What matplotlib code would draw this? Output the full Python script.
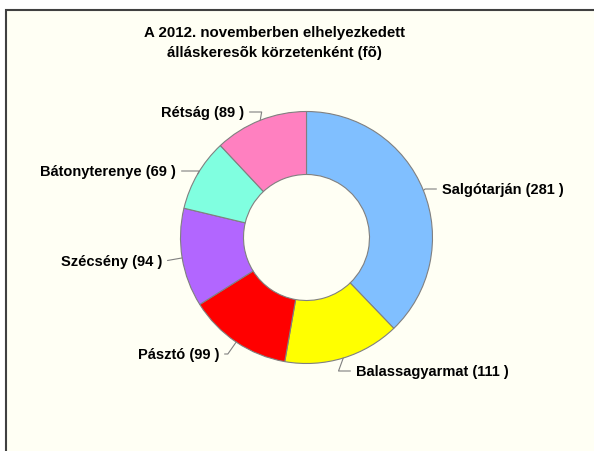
import matplotlib
matplotlib.use("Agg")
import matplotlib.pyplot as plt
from matplotlib.patches import Rectangle
import numpy as np

plt.rcParams['font.family'] = ['Liberation Sans', 'DejaVu Sans']

# ---- data ----
categories = ["Salgótarján", "Balassagyarmat", "Pásztó", "Szécsény", "Bátonyterenye", "Rétság"]
values = [281, 111, 99, 94, 69, 89]
title_lines = ["A 2012. novemberben elhelyezkedett", "álláskeresõk körzetenként (fõ)"]

# ---- styles ----
colors = ["#80BFFF", "#FFFF00", "#FF0000", "#B266FF", "#80FFE0", "#FF80C0"]
bg = "#FFFFF4"
# label anchor (pixel coords in the 594x452 image), alignment, leader angle at wedge
label_px = [(442, 190), (356, 372), (219, 355), (162, 262), (176, 172), (244, 113)]
label_ha = ["left", "left", "right", "right", "right", "right"]
leader_angle = [40, 70, 55, 10, 60, 80]

W, H = 594, 452
fig = plt.figure(figsize=(W / 100, H / 100), dpi=100)
fig.patch.set_facecolor("white")
fig.patches.append(Rectangle((6 / W, -0.05), 1.1, 1 - 11 / H + 0.05, transform=fig.transFigure,
                             facecolor=bg, edgecolor="#404040", linewidth=1.5, zorder=-5))

cx, cy, R = 306.5, 238.5, 126.0
xlim = (-2.0, 2.0)
ylim = (-1.6, 1.8)
left = (cx + xlim[0] * R) / W
bottom = ((H - cy) + ylim[0] * R) / H
ax = fig.add_axes([left, bottom, (xlim[1] - xlim[0]) * R / W, (ylim[1] - ylim[0]) * R / H])
ax.set_facecolor("none")
ax.set_zorder(2)

wedges, _ = ax.pie(values, colors=colors, startangle=90, counterclock=False, radius=1.0,
                   wedgeprops=dict(width=0.5, edgecolor="#808080", linewidth=0.8))
ax.set_xlim(*xlim)
ax.set_ylim(*ylim)
ax.set_aspect("auto")
ax.axis("off")


def px2data(px, py):
    return ((px - cx) / R, (cy - py) / R)


for w, name, val, (px, py), ha, ang in zip(wedges, categories, values, label_px, label_ha, leader_angle):
    mid = np.deg2rad((w.theta1 + w.theta2) / 2)
    xy = (np.cos(mid), np.sin(mid))
    ax.annotate(f"{name} ({val} )", xy=xy, xytext=px2data(px, py), ha=ha, va="center",
                fontsize=10.5, fontweight="bold", color="black",
                arrowprops=dict(arrowstyle="-", color="#808080", lw=0.8,
                                connectionstyle=f"angle,angleA=0,angleB={ang},rad=0",
                                shrinkA=2, shrinkB=0))

fig.text(274 / W, 1 - 33 / H, title_lines[0], ha="center", va="center", fontsize=10.8, fontweight="bold")
fig.text(274 / W, 1 - 53 / H, title_lines[1], ha="center", va="center", fontsize=10.8, fontweight="bold")

fig.savefig("out.png", dpi=100, facecolor=fig.get_facecolor())
